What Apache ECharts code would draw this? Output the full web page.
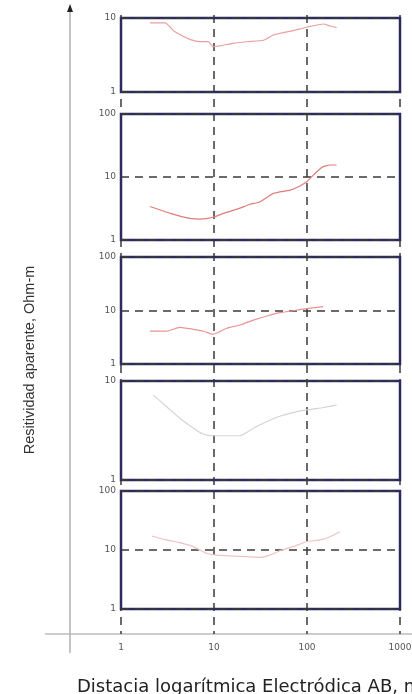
<!DOCTYPE html>
<html><head><meta charset="utf-8">
<script src="https://cdn.jsdelivr.net/npm/echarts@6/dist/echarts.min.js"></script>
<style>html,body{margin:0;padding:0;background:#fff}#c{width:412px;height:694px}</style>
</head><body><div id="c"></div>
<script>
// Data (AB distance in m, apparent resistivity in Ohm-m)
const xTicks = [1, 10, 100, 1000];
const p1X = [2.05, 2.97, 3.8, 5.5, 7.1, 8.7, 9.8, 16, 22.5, 34, 43.5, 71, 99, 150, 177, 208];
const p1Y = [8.6, 8.6, 6.5, 5.15, 4.78, 4.78, 4.1, 4.55, 4.78, 5.0, 5.9, 6.75, 7.5, 8.3, 7.8, 7.4];
const p2X = [2.05, 3.4, 5.5, 7.1, 9.8, 12.6, 19, 24.4, 31, 43.6, 66, 84, 99, 117, 144, 177, 208];
const p2Y = [3.4, 2.65, 2.2, 2.15, 2.3, 2.65, 3.2, 3.7, 4.0, 5.5, 6.2, 7.2, 8.4, 10.7, 14.2, 15.5, 15.5];
const p3X = [2.05, 3.1, 4.3, 6.0, 7.7, 9.8, 13.7, 19, 26.5, 37, 51, 71, 99, 150];
const p3Y = [4.1, 4.1, 4.85, 4.45, 4.1, 3.6, 4.65, 5.35, 6.6, 7.9, 9.1, 9.9, 10.8, 11.8];
const p4X = [2.23, 3.1, 4.3, 6.0, 7.7, 9.8, 13.7, 19, 26.5, 37, 51, 71, 99, 150, 208];
const p4Y = [7.2, 5.5, 4.2, 3.33, 2.9, 2.8, 2.8, 2.8, 3.33, 3.9, 4.4, 4.8, 5.1, 5.4, 5.7];
const p5X = [2.14, 3.1, 4.3, 6.0, 8.3, 10.7, 16, 22.5, 31, 40, 51, 71, 99, 138, 177, 226];
const p5Y = [17.3, 14.8, 13.3, 11.4, 8.8, 8.2, 7.9, 7.7, 7.5, 8.2, 9.7, 11.4, 13.8, 14.8, 16.8, 20.4];
const panelMax = [10, 100, 100, 10, 100];
const lineColors = ['#e8a0a0', '#e07c7c', '#e89494', '#dad2d2', '#f0c2c2'];
const yTitle = 'Resitividad aparente, Ohm-m';
const xTitle = 'Distacia logarítmica Electródica AB, m';

const panelsX = [p1X, p2X, p3X, p4X, p5X];
const panelsY = [p1Y, p2Y, p3Y, p4Y, p5Y];
const boxes = [[18, 74], [114, 126], [257, 107], [381, 99], [491, 118]];
const L = 121, W = 279;
const dash = [8, 6];
const chart = echarts.init(document.getElementById('c'));
const grid = [], xAxis = [], yAxis = [], series = [];
boxes.forEach((b, i) => {
  grid.push({left: L, width: W, top: b[0], height: b[1], show: true, borderColor: '#2c2a5e',
    borderWidth: 2.5, backgroundColor: 'transparent', z: 3, outerBoundsMode: 'none', containLabel: false});
  xAxis.push({gridIndex: i, type: 'log', logBase: 10, min: 1, max: 1000, show: false});
  yAxis.push({gridIndex: i, type: 'log', logBase: 10, min: 1, max: panelMax[i],
    axisLine: {show: false}, axisTick: {show: false},
    axisLabel: {fontSize: 9, color: '#555', margin: 5, fontFamily: 'DejaVu Sans', formatter: v => String(v)},
    splitLine: {show: true, lineStyle: {type: dash, color: '#3a3a3a', width: 1.5}}, z: 3});
  series.push({type: 'line', xAxisIndex: i, yAxisIndex: i, showSymbol: false, symbol: 'none',
    smooth: 0.2, lineStyle: {color: lineColors[i], width: 1.2},
    data: panelsX[i].map((x, k) => [x, panelsY[i][k]]), z: 4});
});
// background grid for the long vertical dashed decade lines and bottom labels
grid.push({left: L, width: W, top: 15, bottom: 60, show: false, outerBoundsMode: 'none', containLabel: false});
xAxis.push({gridIndex: 5, type: 'log', logBase: 10, min: xTicks[0], max: xTicks[3],
  axisLine: {show: false}, axisTick: {show: false},
  axisLabel: {fontSize: 9, color: '#555', margin: 9, fontFamily: 'DejaVu Sans', showMaxLabel: true, showMinLabel: true,
    formatter: v => String(v)},
  splitLine: {show: true, lineStyle: {type: dash, color: '#3a3a3a', width: 1.5}}, z: 1});
yAxis.push({gridIndex: 5, type: 'value', min: 0, max: 1, show: false});

chart.setOption({
  animation: false,
  backgroundColor: '#fff',
  grid, xAxis, yAxis, series,
  graphic: [
    {type: 'line', shape: {x1: 45, y1: 634, x2: 412, y2: 634}, style: {stroke: '#9a9a9a', lineWidth: 1}, z: 0},
    {type: 'line', shape: {x1: 70, y1: 12, x2: 70, y2: 653}, style: {stroke: '#b0b0b0', lineWidth: 1.5}, z: 0},
    {type: 'polygon', shape: {points: [[70, 4], [67, 12], [73, 12]]}, style: {fill: '#222'}, z: 0},
    {type: 'text', rotation: Math.PI / 2, x: 30, y: 360,
      style: {text: yTitle, fontSize: 14.5, fontFamily: 'Liberation Sans', fill: '#333', align: 'center', verticalAlign: 'middle'}},
    {type: 'text', x: 77, y: 687,
      style: {text: xTitle, fontSize: 18, fontFamily: 'DejaVu Sans', fill: '#222', align: 'left', verticalAlign: 'middle'}}
  ]
});
</script></body></html>
